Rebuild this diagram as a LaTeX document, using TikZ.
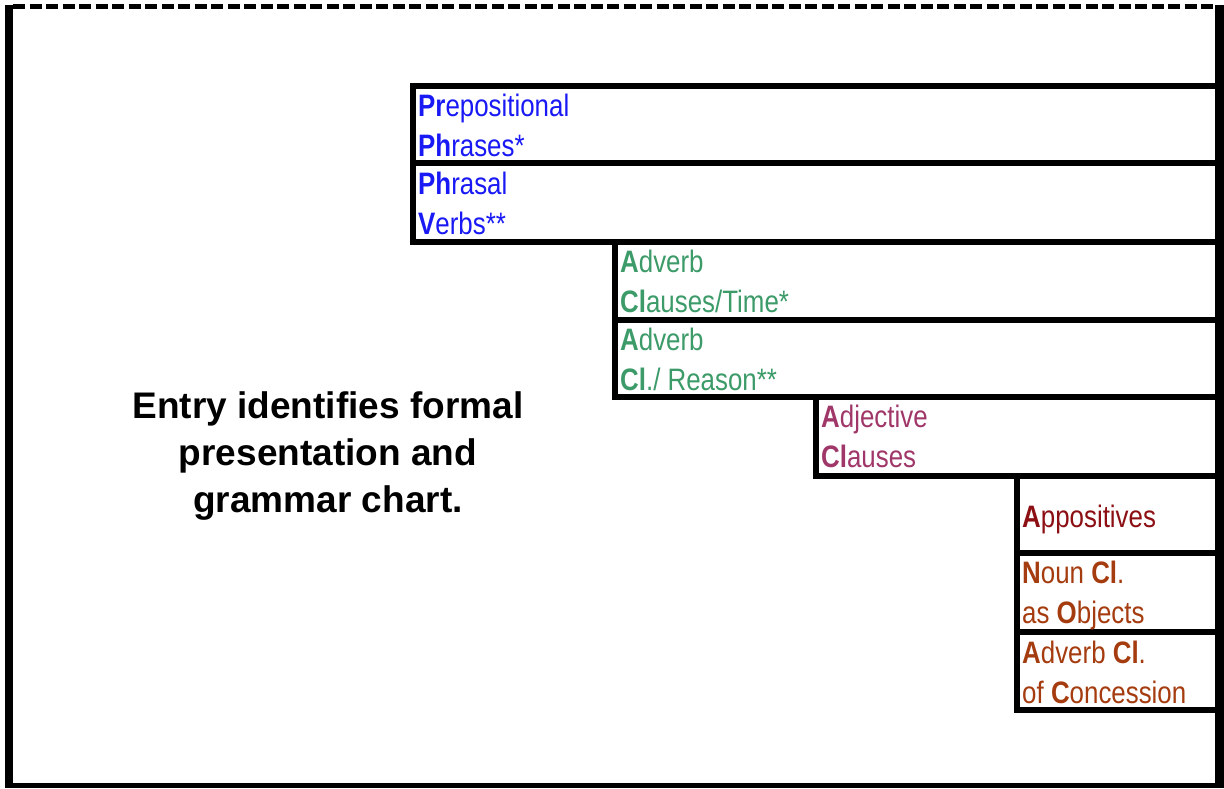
\documentclass[tikz,border=0pt]{standalone}
\usepackage{fontspec}
\setmainfont{Liberation Sans}
\newfontfamily\narrowfont{Liberation Sans}[FakeStretch=0.835]
\usepackage{xcolor}
\usetikzlibrary{calc}

\definecolor{prepblue}{RGB}{25,25,245}
\definecolor{advgreen}{RGB}{60,155,105}
\definecolor{adjpurple}{RGB}{160,55,105}
\definecolor{appred}{RGB}{140,15,20}
\definecolor{nounbrown}{RGB}{165,60,15}

\tikzset{
	stair/.style={draw, line width=6pt},
	lbl/.style={anchor=base west, inner sep=0pt, font=\narrowfont\fontsize{31}{40}\selectfont},
}

\begin{document}
\begin{tikzpicture}[x=1pt, y=-1pt]
	\def\r{1219.5};
	\useasboundingbox (0,0) rectangle (1224,788);

	% outer frame
	\draw[line width=8pt] (9,5) -- (9,788);
	\draw[line width=9pt] (\r,5) -- (\r,788);
	\draw[line width=5pt] (5,785.5) -- (1224,785.5);
	\draw[line width=4.5pt, dash pattern=on 12pt off 4.5pt] (13,6.5) -- (1215,6.5);

	% the staircase of boxes
	\draw[stair] (413,86) rectangle (\r,163);
	\draw[stair] (413,163) rectangle (\r,242);
	\draw[stair] (614.5,242) rectangle (\r,319.5);
	\draw[stair] (614.5,319.5) rectangle (\r,397);
	\draw[stair] (815.5,397) rectangle (\r,475.5);
	\draw[stair] (1017,475.5) rectangle (\r,553);
	\draw[stair] (1017,553) rectangle (\r,632);
	\draw[stair] (1017,632) rectangle (\r,710);

	\node[lbl, text=prepblue] (prep) at (418,116)
		{\begin{tabular}[t]{@{}l@{}}\textbf{Pr}epositional\\\textbf{Ph}rases*\end{tabular}};
	\node[lbl, text=prepblue] (phrasal) at (418,194)
		{\begin{tabular}[t]{@{}l@{}}\textbf{Ph}rasal\\\textbf{V}erbs**\end{tabular}};
	\node[lbl, text=advgreen] (advtime) at (620,272)
		{\begin{tabular}[t]{@{}l@{}}\textbf{A}dverb\\\textbf{Cl}auses/Time*\end{tabular}};
	\node[lbl, text=advgreen] (advreason) at (620,350)
		{\begin{tabular}[t]{@{}l@{}}\textbf{A}dverb\\\textbf{Cl}./ Reason**\end{tabular}};
	\node[lbl, text=adjpurple] (adjcl) at (821,427)
		{\begin{tabular}[t]{@{}l@{}}\textbf{A}djective\\\textbf{Cl}auses\end{tabular}};
	\node[lbl, text=appred] (appos) at (1022,527) {\textbf{A}ppositives};
	\node[lbl, text=nounbrown] (nounobj) at (1022,583)
		{\begin{tabular}[t]{@{}l@{}}\textbf{N}oun \textbf{Cl}.\\as \textbf{O}bjects\end{tabular}};
	\node[lbl, text=nounbrown] (advconc) at (1022,663)
		{\begin{tabular}[t]{@{}l@{}}\textbf{A}dverb \textbf{Cl}.\\of \textbf{C}oncession\end{tabular}};

	\node[anchor=base, inner sep=0pt, font=\bfseries\fontsize{37}{47}\selectfont] (entry) at (328,418)
		{\begin{tabular}[t]{@{}c@{}}Entry identifies formal\\presentation and\\grammar chart.\end{tabular}};
\end{tikzpicture}
\end{document}
